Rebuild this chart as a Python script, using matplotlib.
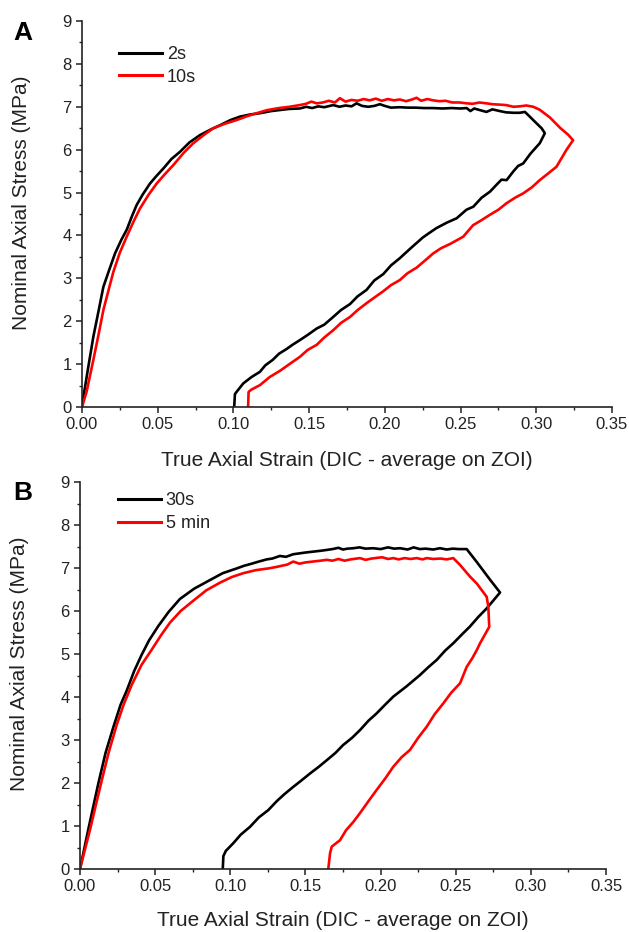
import matplotlib
matplotlib.use("Agg")
import matplotlib.pyplot as plt
from matplotlib.ticker import MultipleLocator, FormatStrFormatter

plt.rcParams['font.family'] = ['Liberation Sans', 'DejaVu Sans']

# ---------------- data ----------------
# Panel A, 2 s
a_2s_strain = [0, 0.001, 0.004, 0.0075, 0.011, 0.0141, 0.018, 0.0218, 0.026, 0.0295,
               0.033, 0.0361, 0.040, 0.0449, 0.049, 0.0537, 0.059, 0.0647, 0.071, 0.0779,
               0.085, 0.0911, 0.098, 0.1043, 0.111, 0.1175, 0.125, 0.132, 0.137, 0.1439,
               0.148, 0.152, 0.156, 0.160, 0.1659, 0.170, 0.174, 0.178, 0.1813, 0.185,
               0.189, 0.193, 0.1967, 0.200, 0.204, 0.2099, 0.215, 0.220, 0.226, 0.2319,
               0.238, 0.244, 0.250, 0.2540, 0.2565, 0.259, 0.263, 0.2671, 0.271, 0.2759,
               0.280, 0.285, 0.289, 0.2925, 0.2960, 0.300, 0.3035, 0.305, 0.3056,
               0.3023, 0.2990, 0.2960, 0.2914, 0.2880, 0.2850, 0.2804, 0.2770, 0.2737, 0.2694,
               0.2639, 0.2584, 0.2539, 0.2474, 0.2410, 0.2340, 0.2290, 0.2250, 0.2170, 0.2099,
               0.204, 0.199, 0.1930, 0.1879, 0.182, 0.177, 0.171, 0.1659, 0.160, 0.155,
               0.149, 0.1439, 0.139, 0.135, 0.130, 0.126, 0.121, 0.1175, 0.112, 0.1065,
               0.102, 0.101, 0.1005]
a_2s_stress = [0, 0.25, 0.9, 1.64, 2.25, 2.80, 3.2, 3.58, 3.9, 4.13,
               4.45, 4.71, 4.95, 5.21, 5.38, 5.56, 5.78, 5.95, 6.17, 6.34,
               6.47, 6.57, 6.69, 6.77, 6.82, 6.85, 6.90, 6.93, 6.95, 6.96,
               7.00, 6.97, 7.01, 6.99, 7.04, 7.00, 7.03, 7.01, 7.08, 7.02,
               7.00, 7.02, 7.06, 7.02, 6.98, 6.99, 6.98, 6.98, 6.97, 6.97,
               6.96, 6.97, 6.96, 6.97, 6.90, 6.96, 6.92, 6.88, 6.94, 6.90,
               6.87, 6.86, 6.86, 6.88, 6.76, 6.62, 6.50, 6.42, 6.38,
               6.15, 6.02, 5.90, 5.68, 5.62, 5.50, 5.29, 5.30, 5.18, 5.02,
               4.88, 4.67, 4.60, 4.40, 4.30, 4.17, 4.05, 3.95, 3.70, 3.47,
               3.30, 3.10, 2.95, 2.73, 2.58, 2.40, 2.26, 2.10, 1.92, 1.83,
               1.68, 1.56, 1.45, 1.35, 1.24, 1.10, 0.97, 0.82, 0.70, 0.55,
               0.35, 0.30, 0.0]

# Panel A, 10 s
a_10s_strain = [0, 0.003, 0.0075, 0.011, 0.0141, 0.0175, 0.0207, 0.025, 0.0295, 0.034,
                0.0383, 0.044, 0.0493, 0.055, 0.0603, 0.067, 0.0735, 0.080, 0.0867, 0.094,
                0.1021, 0.109, 0.1153, 0.122, 0.130, 0.137, 0.1439, 0.148, 0.1515, 0.155,
                0.159, 0.163, 0.167, 0.1703, 0.174, 0.178, 0.182, 0.186, 0.190, 0.194,
                0.198, 0.202, 0.206, 0.2099, 0.214, 0.218, 0.2209, 0.224, 0.228, 0.2319,
                0.236, 0.240, 0.2445, 0.2495, 0.254, 0.258, 0.2625, 0.2671, 0.271, 0.2759,
                0.280, 0.2850, 0.289, 0.2935, 0.2980, 0.3023, 0.309, 0.316, 0.321, 0.3243,
                0.320, 0.3170, 0.3133, 0.3080, 0.3023, 0.2970, 0.2913, 0.2860, 0.2803, 0.2750,
                0.2693, 0.2640, 0.2583, 0.2517, 0.2430, 0.2370, 0.2319, 0.2260, 0.2210, 0.2150,
                0.2099, 0.204, 0.199, 0.193, 0.1879, 0.182, 0.177, 0.171, 0.1659, 0.160,
                0.155, 0.149, 0.1439, 0.137, 0.131, 0.124, 0.1175, 0.1116, 0.1100, 0.1097]
a_10s_stress = [0, 0.35, 1.10, 1.70, 2.26, 2.72, 3.15, 3.60, 3.97, 4.32,
                4.63, 4.95, 5.21, 5.44, 5.64, 5.92, 6.15, 6.33, 6.50, 6.60,
                6.69, 6.78, 6.85, 6.92, 6.97, 7.00, 7.04, 7.07, 7.12, 7.08,
                7.10, 7.14, 7.10, 7.20, 7.12, 7.16, 7.14, 7.18, 7.15, 7.19,
                7.14, 7.18, 7.15, 7.17, 7.13, 7.17, 7.21, 7.14, 7.18, 7.15,
                7.13, 7.14, 7.10, 7.10, 7.08, 7.07, 7.10, 7.08, 7.06, 7.05,
                7.04, 7.00, 7.01, 7.03, 7.00, 6.93, 6.75, 6.50, 6.35, 6.22,
                6.00, 5.82, 5.60, 5.45, 5.29, 5.12, 4.98, 4.88, 4.75, 4.60,
                4.48, 4.36, 4.24, 3.97, 3.80, 3.70, 3.58, 3.40, 3.25, 3.12,
                2.96, 2.84, 2.70, 2.55, 2.42, 2.26, 2.10, 1.96, 1.79, 1.62,
                1.45, 1.33, 1.17, 1.00, 0.85, 0.70, 0.51, 0.40, 0.35, 0.0]

# Panel B, 30 s
b_30s_strain = [0, 0.003, 0.006, 0.0122, 0.017, 0.0222, 0.027, 0.0311, 0.036, 0.0410,
                0.046, 0.0521, 0.059, 0.0665, 0.076, 0.0865, 0.095, 0.1043, 0.109, 0.1142,
                0.119, 0.1242, 0.128, 0.1330, 0.137, 0.1419, 0.146, 0.150, 0.155, 0.160,
                0.1642, 0.168, 0.172, 0.175, 0.178, 0.182, 0.186, 0.190, 0.195, 0.200,
                0.205, 0.209, 0.213, 0.218, 0.222, 0.226, 0.230, 0.235, 0.2395, 0.244,
                0.248, 0.252, 0.2573, 0.264, 0.2728, 0.2795,
                0.2706, 0.2650, 0.2595, 0.2540, 0.2484, 0.2430, 0.2373, 0.2320, 0.2262, 0.2170,
                0.2085, 0.2030, 0.1974, 0.1920, 0.1863, 0.181, 0.175, 0.170, 0.1642, 0.159,
                0.153, 0.147, 0.1419, 0.136, 0.131, 0.1253, 0.119, 0.1131, 0.107, 0.102,
                0.097, 0.0954, 0.0950]
b_30s_stress = [0, 0.5, 1.0, 1.99, 2.70, 3.30, 3.82, 4.15, 4.60, 4.98,
                5.32, 5.65, 5.98, 6.28, 6.52, 6.72, 6.88, 6.99, 7.05, 7.10,
                7.15, 7.20, 7.22, 7.28, 7.26, 7.32, 7.34, 7.36, 7.38, 7.40,
                7.42, 7.44, 7.47, 7.43, 7.45, 7.46, 7.48, 7.45, 7.46, 7.44,
                7.48, 7.45, 7.46, 7.43, 7.48, 7.44, 7.45, 7.43, 7.46, 7.43,
                7.45, 7.44, 7.44, 7.14, 6.73, 6.43,
                6.06, 5.86, 5.64, 5.45, 5.25, 5.08, 4.86, 4.70, 4.51, 4.24,
                4.01, 3.82, 3.62, 3.45, 3.23, 3.05, 2.88, 2.70, 2.53, 2.38,
                2.22, 2.05, 1.91, 1.74, 1.58, 1.37, 1.20, 0.98, 0.80, 0.60,
                0.42, 0.30, 0.0]

# Panel B, 5 min
b_5min_strain = [0, 0.004, 0.0067, 0.0105, 0.0144, 0.019, 0.0244, 0.029, 0.0344, 0.041,
                 0.0477, 0.054, 0.0599, 0.067, 0.0754, 0.084, 0.0932, 0.1010, 0.1087, 0.1170,
                 0.1253, 0.130, 0.1340, 0.138, 0.1419, 0.146, 0.150, 0.155, 0.160, 0.1642,
                 0.168, 0.172, 0.176, 0.1800, 0.1863, 0.190, 0.194, 0.2010, 0.205, 0.2085,
                 0.212, 0.216, 0.220, 0.224, 0.228, 0.2307, 0.235, 0.240, 0.244, 0.2484,
                 0.2529, 0.2595, 0.264, 0.2706, 0.2717, 0.2723,
                 0.2662, 0.2640, 0.2610, 0.2573, 0.2529, 0.2470, 0.2417, 0.2360, 0.2307, 0.2250,
                 0.2196, 0.2140, 0.2085, 0.2030, 0.1974, 0.1920, 0.1863, 0.182, 0.177, 0.173,
                 0.1675, 0.1664, 0.1652]
b_5min_stress = [0, 0.55, 0.92, 1.48, 2.05, 2.70, 3.35, 3.82, 4.28, 4.75,
                 5.10, 5.44, 5.73, 6.00, 6.24, 6.48, 6.66, 6.79, 6.88, 6.95,
                 6.99, 7.02, 7.05, 7.08, 7.15, 7.10, 7.13, 7.15, 7.17, 7.19,
                 7.17, 7.21, 7.17, 7.20, 7.23, 7.19, 7.22, 7.25, 7.21, 7.23,
                 7.20, 7.23, 7.21, 7.23, 7.20, 7.23, 7.21, 7.22, 7.20, 7.23,
                 7.07, 6.80, 6.64, 6.33, 6.10, 5.63,
                 5.25, 5.09, 4.90, 4.70, 4.32, 4.10, 3.85, 3.60, 3.31, 3.05,
                 2.77, 2.60, 2.38, 2.10, 1.84, 1.58, 1.30, 1.10, 0.90, 0.67,
                 0.52, 0.37, 0.0]

panel_labels = ["A", "B"]
legend_labels = [["2s", "10s"], ["30s", "5 min"]]
xlabel = "True Axial Strain (DIC - average on ZOI)"
ylabel = "Nominal Axial Stress (MPa)"

# ---------------- figure ----------------
fig = plt.figure(figsize=(6.29, 9.32), dpi=100)
axA = fig.add_axes([82/629, 1-407/932, 530/629, 386/932])
axB = fig.add_axes([80/629, 1-869/932, 526/629, 387/932])

ink = '#222222'
series = [
    (axA, (a_2s_strain, a_2s_stress), (a_10s_strain, a_10s_stress)),
    (axB, (b_30s_strain, b_30s_stress), (b_5min_strain, b_5min_stress)),
]
legend_anchor = [(0.07, 0.935), (0.072, 0.973)]

for i, (ax, blk, red) in enumerate(series):
    ax.plot(blk[0], blk[1], color='black', lw=1.9, label=legend_labels[i][0])
    ax.plot(red[0], red[1], color='#ff0000', lw=1.9, label=legend_labels[i][1])
    ax.set_xlim(0, 0.35)
    ax.set_ylim(0, 9)
    ax.xaxis.set_major_locator(MultipleLocator(0.05))
    ax.xaxis.set_minor_locator(MultipleLocator(0.025))
    ax.xaxis.set_major_formatter(FormatStrFormatter('%.2f'))
    ax.yaxis.set_major_locator(MultipleLocator(1))
    ax.yaxis.set_minor_locator(MultipleLocator(0.5))
    for s in ['top', 'right']:
        ax.spines[s].set_visible(False)
    for s in ['left', 'bottom']:
        ax.spines[s].set_linewidth(1.2)
        ax.spines[s].set_color(ink)
    ax.tick_params(which='major', direction='out', length=4.5, width=1.1, color=ink,
                   labelsize=12, labelcolor=ink, pad=3)
    ax.tick_params(which='minor', direction='out', length=2.5, width=1.0, color=ink)
    leg = ax.legend(loc='upper left', bbox_to_anchor=legend_anchor[i], frameon=False,
                    fontsize=13, handlelength=2.4, handletextpad=0.25, labelspacing=0.3,
                    borderpad=0, borderaxespad=0)
    for ln in leg.get_lines():
        ln.set_linewidth(2.2)
    for t in leg.get_texts():
        t.set_color(ink)

# axis labels and panel letters
fig.text(347/629, 1-460/932, xlabel, ha='center', va='center', fontsize=15, color=ink)
fig.text(343/629, 1-921/932, xlabel, ha='center', va='center', fontsize=15, color=ink)
fig.text(22/629, 1-203/932, ylabel, ha='center', va='center', rotation=90, fontsize=15, color=ink)
fig.text(20/629, 1-664/932, ylabel, ha='center', va='center', rotation=90, fontsize=15, color=ink)
fig.text(23/629, 1-33/932, panel_labels[0], ha='center', va='center', fontsize=19,
         fontweight='bold', color='black')
fig.text(23/629, 1-493/932, panel_labels[1], ha='center', va='center', fontsize=19,
         fontweight='bold', color='black')

fig.savefig('out.png', dpi=100)
